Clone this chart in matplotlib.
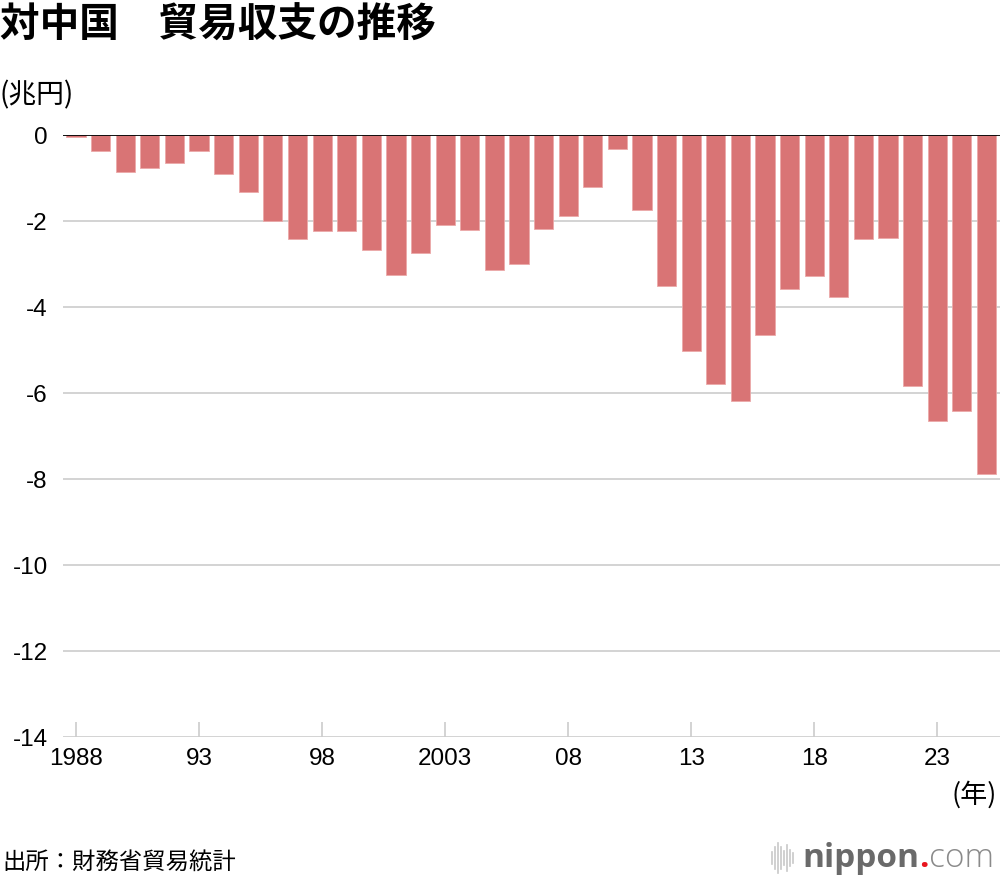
import matplotlib
matplotlib.use("Agg")
import matplotlib.pyplot as plt
from matplotlib.lines import Line2D

plt.rcParams['font.family'] = ['Noto Sans CJK JP', 'DejaVu Sans']

# data (trillion yen)
years = list(range(1988, 2026))
balance = [-0.05, -0.38, -0.85, -0.76, -0.64, -0.37, -0.90, -1.32, -2.01, -2.43,
           -2.23, -2.23, -2.67, -3.26, -2.74, -2.09, -2.20, -3.14, -2.99, -2.19,
           -1.88, -1.20, -0.33, -1.74, -3.52, -5.02, -5.78, -6.19, -4.64, -3.57,
           -3.29, -3.77, -2.42, -2.40, -5.83, -6.65, -6.43, -7.89]
tick_years = [1988, 1993, 1998, 2003, 2008, 2013, 2018, 2023]
tick_labels = ['1988', '93', '98', '2003', '08', '13', '18', '23']
y_ticks = [0, -2, -4, -6, -8, -10, -12, -14]

fig = plt.figure(figsize=(10, 8.8), dpi=100)
ax = fig.add_axes([0.063, 143 / 880, 0.937, 602 / 880])

ax.bar(years, balance, width=0.78, color='#d97475', edgecolor='#eba9a9',
       linewidth=0.6, zorder=3)

ax.set_xlim(1987.47, 2025.55)
ax.set_ylim(-14, 0)

# gridlines and zero line
for v in y_ticks[1:]:
    ax.axhline(v, color='#d0d0d0', lw=1.3, zorder=1)
ax.axhline(0, color='black', lw=1.3, zorder=4)

for s in ax.spines.values():
    s.set_visible(False)

ax.set_yticks(y_ticks)
ax.set_yticklabels([str(v) for v in y_ticks], family='Liberation Sans', fontsize=17.5)
ax.tick_params(axis='y', length=0, pad=11)

ax.set_xticks(tick_years)
ax.set_xticklabels(tick_labels, family='Liberation Sans', fontsize=17.5)
ax.tick_params(axis='x', direction='in', length=11, width=1.2, color='#cccccc', pad=8)

# titles and notes
fig.text(0.0, 1 - 25 / 880, '対中国　貿易収支の推移', fontsize=28.5, fontweight='bold',
         va='center', ha='left')
fig.text(0.0, 1 - 95 / 880, '(兆円)', fontsize=20, va='center', ha='left')
fig.text(0.997, 1 - 795 / 880, '(年)', fontsize=19.5, va='center', ha='right')
fig.text(0.002, 1 - 862 / 880, '出所：財務省貿易統計', fontsize=16.8, va='center', ha='left')

# nippon.com logo
renderer = fig.canvas.get_renderer()
ly = 1 - 858 / 880
t_com = fig.text(0.994, ly, 'com', fontsize=24, color='#8a8a8a', family='Open Sans',
                 fontweight='light', va='center', ha='right')
x_com = t_com.get_window_extent(renderer).x0 / 1000
t_dot = fig.text(x_com, ly, '.', fontsize=24, color='#e8151e', family='Open Sans',
                 fontweight='bold', va='center', ha='right')
x_dot = t_dot.get_window_extent(renderer).x0 / 1000
fig.text(x_dot, ly, 'nippon', fontsize=24, color='#6a6a6a', family='Open Sans',
         fontweight='bold', va='center', ha='right')
bar_h = [0.6, 1.0, 1.4, 1.0, 0.7, 1.2, 0.8, 0.5]
for i, h in enumerate(bar_h):
    x = (772 + i * 3) / 1000
    fig.add_artist(Line2D([x, x], [ly - h * 0.012, ly + h * 0.012], color='#c8c8c8', lw=1.2))

fig.savefig('out.png', dpi=100)
